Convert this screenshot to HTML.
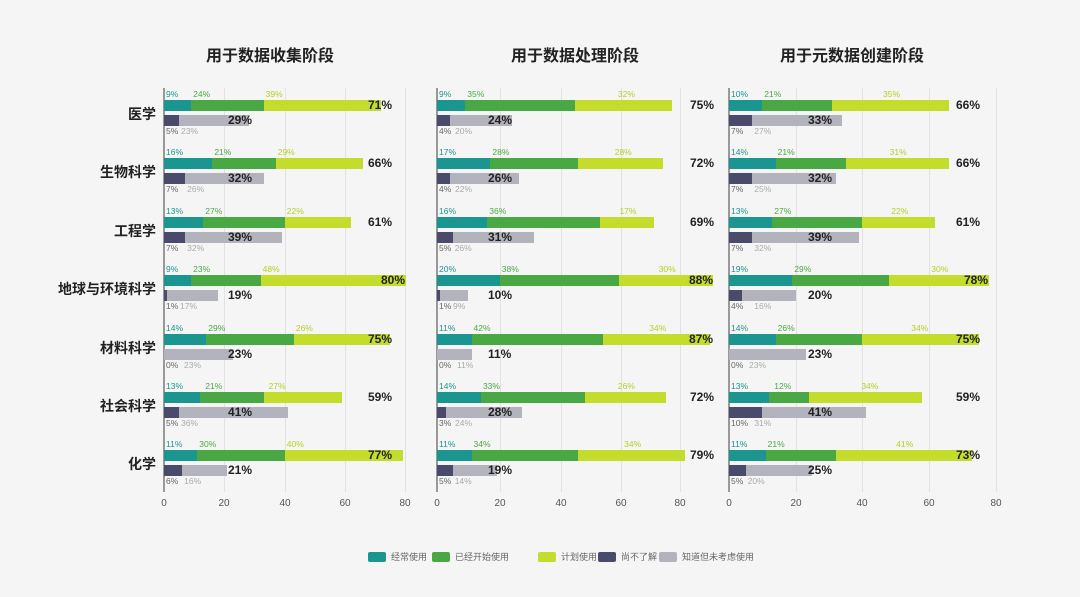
<!DOCTYPE html><html><head><meta charset="utf-8"><style>
body{margin:0;background:#f5f5f5;width:1080px;height:597px;overflow:hidden;position:relative;font-family:"Liberation Sans","Noto Sans CJK SC",sans-serif}
.p{position:absolute;top:0}
.g{position:absolute;top:88px;height:404px;width:1px;background:#e2e2e2}
.ax{position:absolute;top:88px;height:404px;width:2px;background:#999}
.t{position:absolute;top:498px;font-size:10px;color:#555;width:30px;margin-left:-15px;text-align:center}
.r{position:absolute;left:0}
.l{display:flex;height:10px;font-size:8.5px;line-height:10px;white-space:nowrap}
.l span{padding-left:2px;box-sizing:border-box;overflow:visible}
.b{display:flex;height:11px;margin-top:1px}
.b2{display:flex;height:11px;margin-top:4px}
.a{background:#1a9590}.c{background:#4aa844}.d{background:#c4dc2c}.e{background:#4a4b6b}.f{background:#b3b3bd}
.ta{color:#1a9590}.tc{color:#4aa844}.td{color:#b7cf22}.te{color:#666}.tf{color:#aaa}
.p2 .td,.p3 .td{text-align:center!important}
.tot{position:absolute;width:40px;text-align:right;font-size:12px;color:#222;top:9px;font-weight:600}
.bt{position:absolute;font-size:12px;color:#222;top:24px;font-weight:600}
.cat{position:absolute;right:924px;font-size:14px;color:#222;width:150px;text-align:right;font-weight:bold}
.ti{position:absolute;top:42px;font-size:16px;font-weight:bold;color:#222;width:240px;text-align:center}
.lg{position:absolute;top:552px;width:18px;height:10px;border-radius:2px}
.lt{position:absolute;top:550px;font-size:9px;color:#666}
</style></head><body>
<div class="ti" style="left:150px">用于数据收集阶段</div>
<div class="ti" style="left:455px">用于数据处理阶段</div>
<div class="ti" style="left:732px">用于元数据创建阶段</div>

<div class="cat" style="top:104px">医学</div>
<div class="cat" style="top:162px">生物科学</div>
<div class="cat" style="top:221px">工程学</div>
<div class="cat" style="top:279px">地球与环境科学</div>
<div class="cat" style="top:338px">材料科学</div>
<div class="cat" style="top:396px">社会科学</div>
<div class="cat" style="top:454px">化学</div>

<div class="g" style="left:224px"></div><div class="g" style="left:285px"></div><div class="g" style="left:345px"></div><div class="g" style="left:405px"></div><div class="ax" style="left:163px"></div>
<div class="t" style="left:164px">0</div><div class="t" style="left:224px">20</div><div class="t" style="left:285px">40</div><div class="t" style="left:345px">60</div><div class="t" style="left:405px">80</div>
<div class="g" style="left:500px"></div><div class="g" style="left:561px"></div><div class="g" style="left:621px"></div><div class="g" style="left:680px"></div><div class="ax" style="left:436px"></div>
<div class="t" style="left:437px">0</div><div class="t" style="left:500px">20</div><div class="t" style="left:561px">40</div><div class="t" style="left:621px">60</div><div class="t" style="left:680px">80</div>
<div class="g" style="left:796px"></div><div class="g" style="left:862px"></div><div class="g" style="left:929px"></div><div class="g" style="left:996px"></div><div class="ax" style="left:728px"></div>
<div class="t" style="left:729px">0</div><div class="t" style="left:796px">20</div><div class="t" style="left:862px">40</div><div class="t" style="left:929px">60</div><div class="t" style="left:996px">80</div>

<div class="p" style="left:164px;--s:3.02px">
<div class="r" style="top:89px"><div class="l"><span class="ta" style="width:calc(9*var(--s))">9%</span><span class="tc" style="width:calc(24*var(--s))">24%</span><span class="td" style="width:calc(39*var(--s))">39%</span></div><div class="b"><div class="a" style="width:calc(9*var(--s))"></div><div class="c" style="width:calc(24*var(--s))"></div><div class="d" style="width:calc(39*var(--s))"></div></div><div class="b2"><div class="e" style="width:calc(5*var(--s))"></div><div class="f" style="width:calc(23*var(--s))"></div></div><div class="l"><span class="te" style="width:calc(5*var(--s))">5%</span><span class="tf">23%</span></div><span class="tot" style="left:188px">71%</span><span class="bt" style="left:64px">29%</span></div>
<div class="r" style="top:147px"><div class="l"><span class="ta" style="width:calc(16*var(--s))">16%</span><span class="tc" style="width:calc(21*var(--s))">21%</span><span class="td" style="width:calc(29*var(--s))">29%</span></div><div class="b"><div class="a" style="width:calc(16*var(--s))"></div><div class="c" style="width:calc(21*var(--s))"></div><div class="d" style="width:calc(29*var(--s))"></div></div><div class="b2"><div class="e" style="width:calc(7*var(--s))"></div><div class="f" style="width:calc(26*var(--s))"></div></div><div class="l"><span class="te" style="width:calc(7*var(--s))">7%</span><span class="tf">26%</span></div><span class="tot" style="left:188px">66%</span><span class="bt" style="left:64px">32%</span></div>
<div class="r" style="top:206px"><div class="l"><span class="ta" style="width:calc(13*var(--s))">13%</span><span class="tc" style="width:calc(27*var(--s))">27%</span><span class="td" style="width:calc(22*var(--s))">22%</span></div><div class="b"><div class="a" style="width:calc(13*var(--s))"></div><div class="c" style="width:calc(27*var(--s))"></div><div class="d" style="width:calc(22*var(--s))"></div></div><div class="b2"><div class="e" style="width:calc(7*var(--s))"></div><div class="f" style="width:calc(32*var(--s))"></div></div><div class="l"><span class="te" style="width:calc(7*var(--s))">7%</span><span class="tf">32%</span></div><span class="tot" style="left:188px">61%</span><span class="bt" style="left:64px">39%</span></div>
<div class="r" style="top:264px"><div class="l"><span class="ta" style="width:calc(9*var(--s))">9%</span><span class="tc" style="width:calc(23*var(--s))">23%</span><span class="td" style="width:calc(48*var(--s))">48%</span></div><div class="b"><div class="a" style="width:calc(9*var(--s))"></div><div class="c" style="width:calc(23*var(--s))"></div><div class="d" style="width:calc(48*var(--s))"></div></div><div class="b2"><div class="e" style="width:calc(1*var(--s))"></div><div class="f" style="width:calc(17*var(--s))"></div></div><div class="l"><span class="te" style="width:14px">1%</span><span class="tf">17%</span></div><span class="tot" style="left:201px">80%</span><span class="bt" style="left:64px">19%</span></div>
<div class="r" style="top:323px"><div class="l"><span class="ta" style="width:calc(14*var(--s))">14%</span><span class="tc" style="width:calc(29*var(--s))">29%</span><span class="td" style="width:calc(26*var(--s))">26%</span></div><div class="b"><div class="a" style="width:calc(14*var(--s))"></div><div class="c" style="width:calc(29*var(--s))"></div><div class="d" style="width:calc(32*var(--s))"></div></div><div class="b2"><div class="f" style="width:calc(23*var(--s))"></div></div><div class="l"><span class="te" style="width:18px">0%</span><span class="tf">23%</span></div><span class="tot" style="left:188px">75%</span><span class="bt" style="left:64px">23%</span></div>
<div class="r" style="top:381px"><div class="l"><span class="ta" style="width:calc(13*var(--s))">13%</span><span class="tc" style="width:calc(21*var(--s))">21%</span><span class="td" style="width:calc(27*var(--s))">27%</span></div><div class="b"><div class="a" style="width:calc(12*var(--s))"></div><div class="c" style="width:calc(21*var(--s))"></div><div class="d" style="width:calc(26*var(--s))"></div></div><div class="b2"><div class="e" style="width:calc(5*var(--s))"></div><div class="f" style="width:calc(36*var(--s))"></div></div><div class="l"><span class="te" style="width:calc(5*var(--s))">5%</span><span class="tf">36%</span></div><span class="tot" style="left:188px">59%</span><span class="bt" style="left:64px">41%</span></div>
<div class="r" style="top:439px"><div class="l"><span class="ta" style="width:calc(11*var(--s))">11%</span><span class="tc" style="width:calc(29*var(--s))">30%</span><span class="td" style="width:calc(40*var(--s))">40%</span></div><div class="b"><div class="a" style="width:calc(11*var(--s))"></div><div class="c" style="width:calc(29*var(--s))"></div><div class="d" style="width:calc(39*var(--s))"></div></div><div class="b2"><div class="e" style="width:calc(6*var(--s))"></div><div class="f" style="width:calc(15*var(--s))"></div></div><div class="l"><span class="te" style="width:calc(6*var(--s))">6%</span><span class="tf">16%</span></div><span class="tot" style="left:188px">77%</span><span class="bt" style="left:64px">21%</span></div>
</div>

<div class="p p2" style="left:437px;--s:3.14px">
<div class="r" style="top:89px"><div class="l"><span class="ta" style="width:calc(9*var(--s))">9%</span><span class="tc" style="width:calc(35*var(--s))">35%</span><span class="td" style="width:calc(32*var(--s))">32%</span></div><div class="b"><div class="a" style="width:calc(9*var(--s))"></div><div class="c" style="width:calc(35*var(--s))"></div><div class="d" style="width:calc(31*var(--s))"></div></div><div class="b2"><div class="e" style="width:calc(4*var(--s))"></div><div class="f" style="width:calc(20*var(--s))"></div></div><div class="l"><span class="te" style="width:16px">4%</span><span class="tf">20%</span></div><span class="tot" style="left:237px">75%</span><span class="bt" style="left:51px">24%</span></div>
<div class="r" style="top:147px"><div class="l"><span class="ta" style="width:calc(17*var(--s))">17%</span><span class="tc" style="width:calc(28*var(--s))">28%</span><span class="td" style="width:calc(28*var(--s))">28%</span></div><div class="b"><div class="a" style="width:calc(17*var(--s))"></div><div class="c" style="width:calc(28*var(--s))"></div><div class="d" style="width:calc(27*var(--s))"></div></div><div class="b2"><div class="e" style="width:calc(4*var(--s))"></div><div class="f" style="width:calc(22*var(--s))"></div></div><div class="l"><span class="te" style="width:16px">4%</span><span class="tf">22%</span></div><span class="tot" style="left:237px">72%</span><span class="bt" style="left:51px">26%</span></div>
<div class="r" style="top:206px"><div class="l"><span class="ta" style="width:calc(16*var(--s))">16%</span><span class="tc" style="width:calc(36*var(--s))">36%</span><span class="td" style="width:calc(17*var(--s))">17%</span></div><div class="b"><div class="a" style="width:calc(16*var(--s))"></div><div class="c" style="width:calc(36*var(--s))"></div><div class="d" style="width:calc(17*var(--s))"></div></div><div class="b2"><div class="e" style="width:calc(5*var(--s))"></div><div class="f" style="width:calc(26*var(--s))"></div></div><div class="l"><span class="te" style="width:calc(5*var(--s))">5%</span><span class="tf">26%</span></div><span class="tot" style="left:237px">69%</span><span class="bt" style="left:51px">31%</span></div>
<div class="r" style="top:264px"><div class="l"><span class="ta" style="width:calc(20*var(--s))">20%</span><span class="tc" style="width:calc(38*var(--s))">38%</span><span class="td" style="width:calc(30*var(--s))">30%</span></div><div class="b"><div class="a" style="width:calc(20*var(--s))"></div><div class="c" style="width:calc(38*var(--s))"></div><div class="d" style="width:calc(30*var(--s))"></div></div><div class="b2"><div class="e" style="width:calc(1*var(--s))"></div><div class="f" style="width:calc(9*var(--s))"></div></div><div class="l"><span class="te" style="width:14px">1%</span><span class="tf">9%</span></div><span class="tot" style="left:236px">88%</span><span class="bt" style="left:51px">10%</span></div>
<div class="r" style="top:323px"><div class="l"><span class="ta" style="width:calc(11*var(--s))">11%</span><span class="tc" style="width:calc(42*var(--s))">42%</span><span class="td" style="width:calc(34*var(--s))">34%</span></div><div class="b"><div class="a" style="width:calc(11*var(--s))"></div><div class="c" style="width:calc(42*var(--s))"></div><div class="d" style="width:calc(34*var(--s))"></div></div><div class="b2"><div class="f" style="width:calc(11*var(--s))"></div></div><div class="l"><span class="te" style="width:18px">0%</span><span class="tf">11%</span></div><span class="tot" style="left:236px">87%</span><span class="bt" style="left:51px">11%</span></div>
<div class="r" style="top:381px"><div class="l"><span class="ta" style="width:calc(14*var(--s))">14%</span><span class="tc" style="width:calc(33*var(--s))">33%</span><span class="td" style="width:calc(26*var(--s))">26%</span></div><div class="b"><div class="a" style="width:calc(14*var(--s))"></div><div class="c" style="width:calc(33*var(--s))"></div><div class="d" style="width:calc(26*var(--s))"></div></div><div class="b2"><div class="e" style="width:calc(3*var(--s))"></div><div class="f" style="width:calc(24*var(--s))"></div></div><div class="l"><span class="te" style="width:16px">3%</span><span class="tf">24%</span></div><span class="tot" style="left:237px">72%</span><span class="bt" style="left:51px">28%</span></div>
<div class="r" style="top:439px"><div class="l"><span class="ta" style="width:calc(11*var(--s))">11%</span><span class="tc" style="width:calc(34*var(--s))">34%</span><span class="td" style="width:calc(34*var(--s))">34%</span></div><div class="b"><div class="a" style="width:calc(11*var(--s))"></div><div class="c" style="width:calc(34*var(--s))"></div><div class="d" style="width:calc(34*var(--s))"></div></div><div class="b2"><div class="e" style="width:calc(5*var(--s))"></div><div class="f" style="width:calc(14*var(--s))"></div></div><div class="l"><span class="te" style="width:calc(5*var(--s))">5%</span><span class="tf">14%</span></div><span class="tot" style="left:237px">79%</span><span class="bt" style="left:51px">19%</span></div>
</div>

<div class="p p3" style="left:729px;--s:3.33px">
<div class="r" style="top:89px"><div class="l"><span class="ta" style="width:calc(10*var(--s))">10%</span><span class="tc" style="width:calc(21*var(--s))">21%</span><span class="td" style="width:calc(35*var(--s))">35%</span></div><div class="b"><div class="a" style="width:calc(10*var(--s))"></div><div class="c" style="width:calc(21*var(--s))"></div><div class="d" style="width:calc(35*var(--s))"></div></div><div class="b2"><div class="e" style="width:calc(7*var(--s))"></div><div class="f" style="width:calc(27*var(--s))"></div></div><div class="l"><span class="te" style="width:calc(7*var(--s))">7%</span><span class="tf">27%</span></div><span class="tot" style="left:211px">66%</span><span class="bt" style="left:79px">33%</span></div>
<div class="r" style="top:147px"><div class="l"><span class="ta" style="width:calc(14*var(--s))">14%</span><span class="tc" style="width:calc(21*var(--s))">21%</span><span class="td" style="width:calc(31*var(--s))">31%</span></div><div class="b"><div class="a" style="width:calc(14*var(--s))"></div><div class="c" style="width:calc(21*var(--s))"></div><div class="d" style="width:calc(31*var(--s))"></div></div><div class="b2"><div class="e" style="width:calc(7*var(--s))"></div><div class="f" style="width:calc(25*var(--s))"></div></div><div class="l"><span class="te" style="width:calc(7*var(--s))">7%</span><span class="tf">25%</span></div><span class="tot" style="left:211px">66%</span><span class="bt" style="left:79px">32%</span></div>
<div class="r" style="top:206px"><div class="l"><span class="ta" style="width:calc(13*var(--s))">13%</span><span class="tc" style="width:calc(27*var(--s))">27%</span><span class="td" style="width:calc(22*var(--s))">22%</span></div><div class="b"><div class="a" style="width:calc(13*var(--s))"></div><div class="c" style="width:calc(27*var(--s))"></div><div class="d" style="width:calc(22*var(--s))"></div></div><div class="b2"><div class="e" style="width:calc(7*var(--s))"></div><div class="f" style="width:calc(32*var(--s))"></div></div><div class="l"><span class="te" style="width:calc(7*var(--s))">7%</span><span class="tf">32%</span></div><span class="tot" style="left:211px">61%</span><span class="bt" style="left:79px">39%</span></div>
<div class="r" style="top:264px"><div class="l"><span class="ta" style="width:calc(19*var(--s))">19%</span><span class="tc" style="width:calc(29*var(--s))">29%</span><span class="td" style="width:calc(30*var(--s))">30%</span></div><div class="b"><div class="a" style="width:calc(19*var(--s))"></div><div class="c" style="width:calc(29*var(--s))"></div><div class="d" style="width:calc(30*var(--s))"></div></div><div class="b2"><div class="e" style="width:calc(4*var(--s))"></div><div class="f" style="width:calc(16*var(--s))"></div></div><div class="l"><span class="te" style="width:calc(7*var(--s))">4%</span><span class="tf">16%</span></div><span class="tot" style="left:219px">78%</span><span class="bt" style="left:79px">20%</span></div>
<div class="r" style="top:323px"><div class="l"><span class="ta" style="width:calc(14*var(--s))">14%</span><span class="tc" style="width:calc(26*var(--s))">26%</span><span class="td" style="width:calc(34*var(--s))">34%</span></div><div class="b"><div class="a" style="width:calc(14*var(--s))"></div><div class="c" style="width:calc(26*var(--s))"></div><div class="d" style="width:calc(35*var(--s))"></div></div><div class="b2"><div class="f" style="width:calc(23*var(--s))"></div></div><div class="l"><span class="te" style="width:18px">0%</span><span class="tf">23%</span></div><span class="tot" style="left:211px">75%</span><span class="bt" style="left:79px">23%</span></div>
<div class="r" style="top:381px"><div class="l"><span class="ta" style="width:calc(13*var(--s))">13%</span><span class="tc" style="width:calc(12*var(--s))">12%</span><span class="td" style="width:calc(34*var(--s))">34%</span></div><div class="b"><div class="a" style="width:calc(12*var(--s))"></div><div class="c" style="width:calc(12*var(--s))"></div><div class="d" style="width:calc(34*var(--s))"></div></div><div class="b2"><div class="e" style="width:calc(10*var(--s))"></div><div class="f" style="width:calc(31*var(--s))"></div></div><div class="l"><span class="te" style="width:calc(7*var(--s))">10%</span><span class="tf">31%</span></div><span class="tot" style="left:211px">59%</span><span class="bt" style="left:79px">41%</span></div>
<div class="r" style="top:439px"><div class="l"><span class="ta" style="width:calc(11*var(--s))">11%</span><span class="tc" style="width:calc(21*var(--s))">21%</span><span class="td" style="width:calc(41*var(--s))">41%</span></div><div class="b"><div class="a" style="width:calc(11*var(--s))"></div><div class="c" style="width:calc(21*var(--s))"></div><div class="d" style="width:calc(41*var(--s))"></div></div><div class="b2"><div class="e" style="width:calc(5*var(--s))"></div><div class="f" style="width:calc(20*var(--s))"></div></div><div class="l"><span class="te" style="width:calc(5*var(--s))">5%</span><span class="tf">20%</span></div><span class="tot" style="left:211px">73%</span><span class="bt" style="left:79px">25%</span></div>
</div>

<div class="lg a" style="left:368px"></div><div class="lt" style="left:391px">经常使用</div>
<div class="lg c" style="left:432px"></div><div class="lt" style="left:455px">已经开始使用</div>
<div class="lg d" style="left:538px"></div><div class="lt" style="left:561px">计划使用</div>
<div class="lg e" style="left:598px"></div><div class="lt" style="left:621px">尚不了解</div>
<div class="lg f" style="left:659px"></div><div class="lt" style="left:682px">知道但未考虑使用</div>
</body></html>
